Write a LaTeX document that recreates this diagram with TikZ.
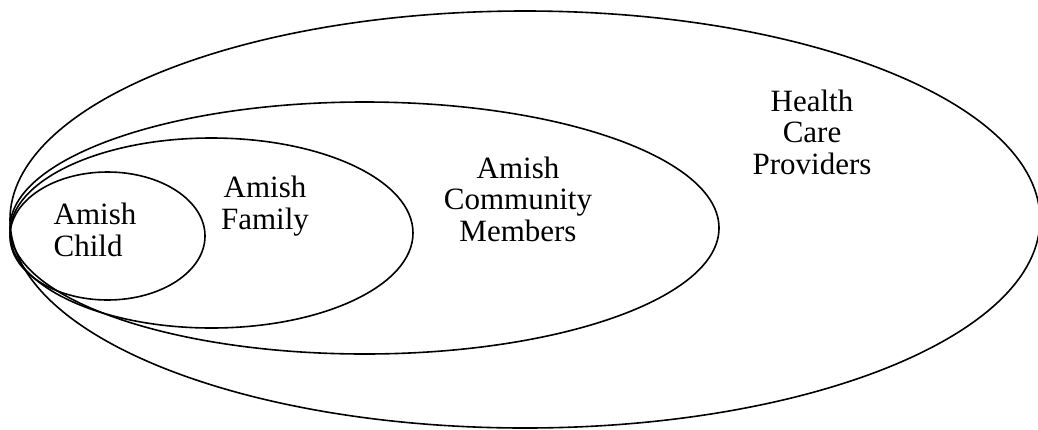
\documentclass[tikz,border=0pt]{standalone}
\usepackage{fontspec}
\setmainfont{Liberation Serif}
\usetikzlibrary{shapes.geometric}
\begin{document}
\begin{tikzpicture}[x=1pt,y=-1pt,
  ring/.style={ellipse, draw=black, line width=1.6pt, inner sep=0pt},
  lbl/.style={font=\fontsize{31}{31.5}\selectfont, inner sep=0pt}]
\useasboundingbox (0,0) rectangle (1038,429);
\node[ring, minimum width=1030pt, minimum height=417pt] (hcp) at (525,219.5) {};
\node[ring, minimum width=709pt, minimum height=252pt] (comm) at (364.5,228) {};
\node[ring, minimum width=403pt, minimum height=190pt] (fam) at (211.5,233) {};
\node[ring, minimum width=195pt, minimum height=128pt] (child) at (107.5,236) {};
\node[lbl, align=left] (tchild) at (95,230) {Amish\\Child};
\node[lbl, align=center] (tfam) at (265,206) {Amish\\Family};
\node[lbl, align=center] (tcomm) at (518,199) {Amish\\Community\\Members};
\node[lbl, align=center] (thcp) at (812,132) {Health\\Care\\Providers};
\end{tikzpicture}
\end{document}
